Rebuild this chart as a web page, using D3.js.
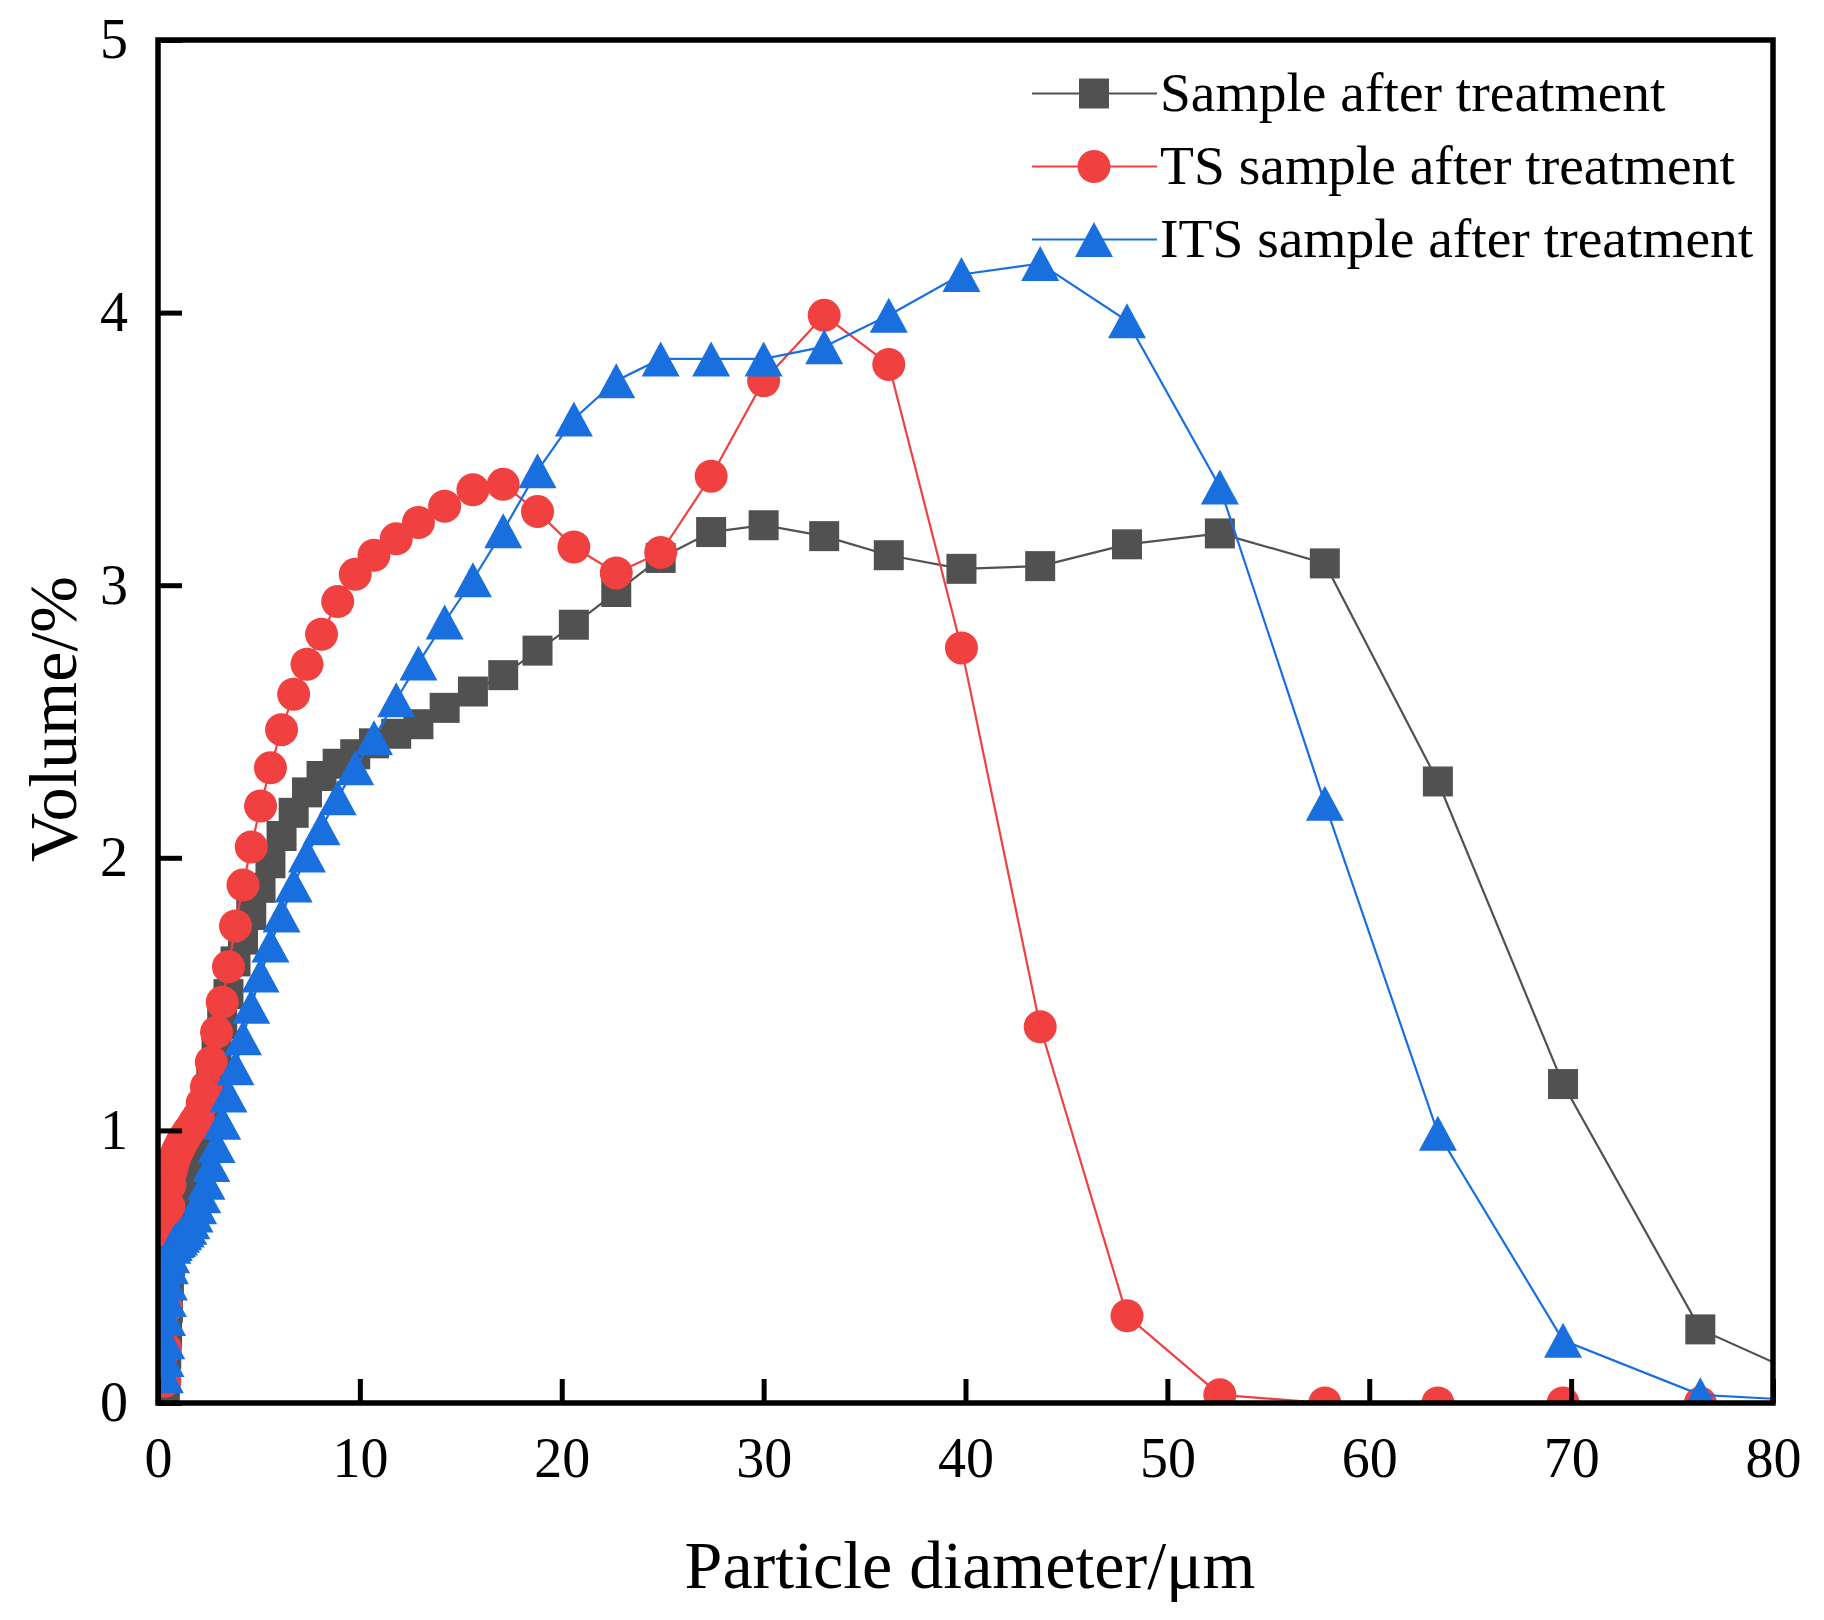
<!DOCTYPE html>
<html>
<head>
<meta charset="utf-8">
<title>Particle size distribution</title>
<script src="https://d3js.org/d3.v7.min.js"></script>
<style>
body { margin: 0; background: #fff; }
svg text { font-family: "Liberation Serif", "Times New Roman", serif; fill: #000; }
</style>
</head>
<body>
<script>
// particle size bins (um)
var diameters = [0.34, 0.37, 0.41, 0.45, 0.49, 0.54, 0.59, 0.65, 0.71, 0.78,
  0.86, 0.94, 1.04, 1.14, 1.25, 1.37, 1.50, 1.65, 1.81, 1.99,
  2.19, 2.40, 2.64, 2.90, 3.18, 3.49, 3.84, 4.21, 4.62, 5.08,
  5.57, 6.12, 6.72, 7.38, 8.10, 8.90, 9.77, 10.7, 11.8, 12.9,
  14.2, 15.6, 17.1, 18.8, 20.6, 22.7, 24.9, 27.4, 30.0, 33.0,
  36.2, 39.8, 43.7, 48.0, 52.6, 57.8, 63.4, 69.6, 76.4, 83.9];

// volume % for each series
var sampleVol = [0.06, 0.11, 0.18, 0.26, 0.35, 0.44, 0.52, 0.60, 0.66, 0.70,
  0.72, 0.74, 0.76, 0.78, 0.80, 0.82, 0.84, 0.87, 0.91, 0.96,
  1.02, 1.10, 1.19, 1.29, 1.39, 1.50, 1.62, 1.70, 1.79, 1.89,
  1.98, 2.08, 2.165, 2.24, 2.30, 2.345, 2.38, 2.42, 2.455, 2.49,
  2.55, 2.61, 2.67, 2.76, 2.855, 2.975, 3.10, 3.195, 3.22, 3.18,
  3.11, 3.06, 3.07, 3.15, 3.19, 3.08, 2.28, 1.17, 0.27, 0.02];

var tsVol = [0.08, 0.20, 0.35, 0.50, 0.63, 0.72, 0.80, 0.85, 0.87, 0.89,
  0.905, 0.92, 0.935, 0.95, 0.965, 0.98, 0.995, 1.01, 1.03, 1.05,
  1.10, 1.16, 1.25, 1.36, 1.47, 1.60, 1.75, 1.90, 2.04, 2.19,
  2.33, 2.47, 2.60, 2.71, 2.82, 2.94, 3.04, 3.11, 3.17, 3.23,
  3.29, 3.35, 3.37, 3.27, 3.14, 3.045, 3.12, 3.40, 3.75, 3.99,
  3.81, 2.77, 1.38, 0.32, 0.03, 0, 0, 0, 0, 0];

var itsVol = [0.10, 0.16, 0.225, 0.31, 0.38, 0.44, 0.50, 0.54, 0.575, 0.585,
  0.595, 0.60, 0.605, 0.615, 0.625, 0.635, 0.645, 0.665, 0.69, 0.72,
  0.76, 0.81, 0.875, 0.945, 1.03, 1.13, 1.23, 1.34, 1.455, 1.57,
  1.68, 1.79, 1.90, 2.01, 2.11, 2.22, 2.33, 2.44, 2.58, 2.715,
  2.865, 3.02, 3.20, 3.42, 3.61, 3.75, 3.83, 3.83, 3.83, 3.875,
  3.99, 4.14, 4.18, 3.97, 3.36, 2.20, 0.99, 0.23, 0.03, 0];

var seriesNames = ["Sample after treatment", "TS sample after treatment", "ITS sample after treatment"];
var seriesColors = ["#515151", "#F14040", "#1A6FDF"];
var seriesShapes = ["square", "circle", "triangle"];

var xTicks = [0, 10, 20, 30, 40, 50, 60, 70, 80];
var yTicks = [0, 1, 2, 3, 4, 5];

var width = 1824, height = 1620;
// plot frame (names avoid window.top)
var pLeft = 158, pRight = 1773, pTop = 40, pBottom = 1403;

var svg = d3.select("body").append("svg")
  .attr("width", width)
  .attr("height", height);

svg.append("rect").attr("width", width).attr("height", height).attr("fill", "#fff");

var x = d3.scaleLinear().domain([0, 80]).range([pLeft, pRight]);
var y = d3.scaleLinear().domain([0, 5]).range([pBottom, pTop]);

svg.append("clipPath").attr("id", "plotclip")
  .append("rect")
  .attr("x", pLeft).attr("y", pTop)
  .attr("width", pRight - pLeft).attr("height", pBottom - pTop);

// marker shapes, sized to match the picture
function marker(shape) {
  if (shape === "square") return d3.symbol().type(d3.symbolSquare).size(30 * 30)();
  if (shape === "circle") return d3.symbol().type(d3.symbolCircle).size(Math.PI * 16.5 * 16.5)();
  // triangle centred on its bounding box
  return "M0,-17.5L19,17.5L-19,17.5Z";
}

var allSeries = [sampleVol, tsVol, itsVol];
var plot = svg.append("g").attr("clip-path", "url(#plotclip)");

var line = d3.line()
  .x(function(d) { return x(d[0]); })
  .y(function(d) { return y(d[1]); });

allSeries.forEach(function(vals, i) {
  var pts = diameters.map(function(dv, k) { return [dv, vals[k]]; });
  var g = plot.append("g");
  g.append("path")
    .datum(pts)
    .attr("fill", "none")
    .attr("stroke", seriesColors[i])
    .attr("stroke-width", 2.2)
    .attr("d", line);
  g.selectAll("path.pt")
    .data(pts)
    .enter()
    .append("path")
    .attr("class", "pt")
    .attr("transform", function(d) { return "translate(" + x(d[0]) + "," + y(d[1]) + ")"; })
    .attr("d", marker(seriesShapes[i]))
    .attr("fill", seriesColors[i]);
});

// axes, ticks pointing inward
var fmt = d3.format("d");
var xAxis = svg.append("g")
  .attr("transform", "translate(0," + pBottom + ")")
  .call(d3.axisBottom(x).tickValues(xTicks).tickFormat(fmt).tickSize(-24).tickPadding(34));
var yAxis = svg.append("g")
  .attr("transform", "translate(" + pLeft + ",0)")
  .call(d3.axisLeft(y).tickValues(yTicks).tickFormat(fmt).tickSize(-24).tickPadding(30));

[xAxis, yAxis].forEach(function(a) {
  a.select(".domain").remove();
  a.selectAll(".tick line").attr("stroke", "#000").attr("stroke-width", 5);
  a.selectAll(".tick text")
    .style("font-family", '"Liberation Serif", "Times New Roman", serif')
    .style("font-size", "56px");
});

svg.append("rect")
  .attr("x", pLeft).attr("y", pTop)
  .attr("width", pRight - pLeft).attr("height", pBottom - pTop)
  .attr("fill", "none")
  .attr("stroke", "#000")
  .attr("stroke-width", 5.5);

// axis titles
svg.append("text")
  .attr("x", 970).attr("y", 1588)
  .attr("text-anchor", "middle")
  .style("font-size", "68px")
  .text("Particle diameter/\u03bcm");

svg.append("text")
  .attr("transform", "translate(76,719) rotate(-90)")
  .attr("text-anchor", "middle")
  .style("font-size", "68px")
  .text("Volume/%");

// legend
var legend = svg.append("g");
seriesNames.forEach(function(name, i) {
  var ly = 93.5 + i * 73;
  legend.append("line")
    .attr("x1", 1032).attr("x2", 1157)
    .attr("y1", ly).attr("y2", ly)
    .attr("stroke", seriesColors[i])
    .attr("stroke-width", 2.2);
  legend.append("path")
    .attr("transform", "translate(1094," + ly + ")")
    .attr("d", marker(seriesShapes[i]))
    .attr("fill", seriesColors[i]);
  legend.append("text")
    .attr("x", 1160).attr("y", ly + 17)
    .style("font-size", "55.5px")
    .text(name);
});
</script>
</body>
</html>
